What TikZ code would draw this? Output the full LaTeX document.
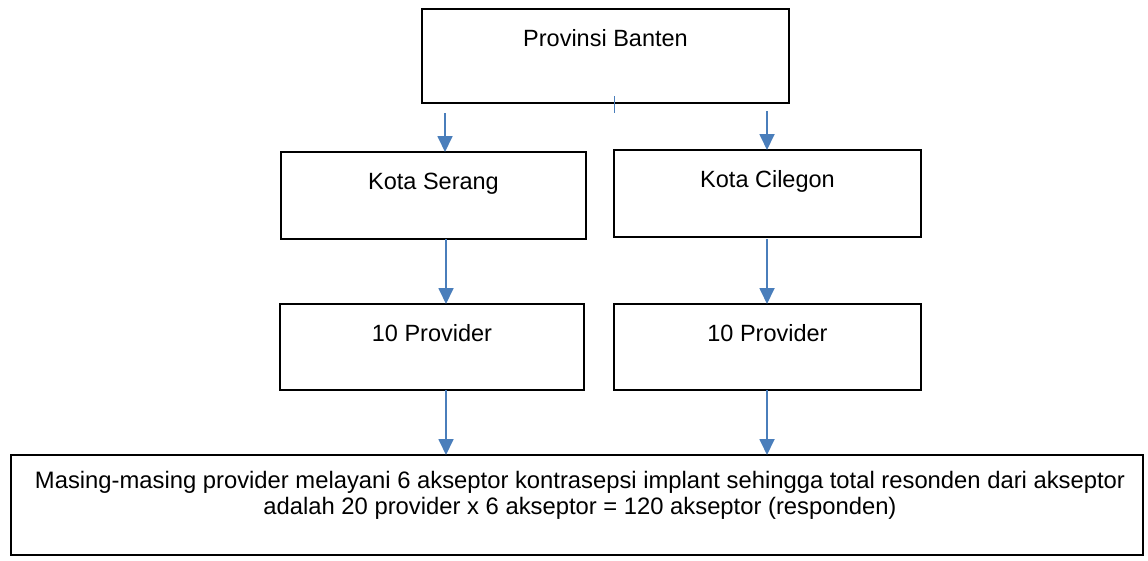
\documentclass[tikz,border=0pt]{standalone}
\usepackage{fontspec}
\setmainfont{Liberation Sans}
\usetikzlibrary{arrows.meta,calc}
\definecolor{arrowblue}{RGB}{74,126,187}
\begin{document}
\begin{tikzpicture}[x=1pt,y=-1pt,
  box/.style={draw=black,line width=1.8pt,rectangle,inner sep=0pt,outer sep=0pt,anchor=north west},
  lbl/.style={font=\fontsize{23.5}{26}\selectfont,inner sep=0pt,anchor=base},
  arr/.style={draw=arrowblue,line width=1.8pt,-{Triangle[width=15pt,length=16pt]}},
  tickline/.style={draw=arrowblue,line width=1.6pt},
]
\useasboundingbox (0,0) rectangle (1148,560);
% boxes
\node[box,minimum width=367pt,minimum height=94pt] (prov) at (422,9) {};
\node[box,minimum width=305pt,minimum height=87pt] (serang) at (281,152) {};
\node[box,minimum width=307pt,minimum height=87pt] (cilegon) at (614,150) {};
\node[box,minimum width=304pt,minimum height=86pt] (provL) at (280,304) {};
\node[box,minimum width=307pt,minimum height=86pt] (provR) at (614,304) {};
\node[box,minimum width=1132pt,minimum height=100pt] (total) at (11,455) {};
% texts
\node[lbl] (provT) at ($(prov.north)+(0,37)$) {Provinsi Banten};
\node[lbl] (serangT) at ($(serang.north)+(0,37)$) {Kota Serang};
\node[lbl] (cilegonT) at ($(cilegon.north)+(0,37)$) {Kota Cilegon};
\node[lbl] (provLT) at ($(provL.north)+(0,37)$) {10 Provider};
\node[lbl] (provRT) at ($(provR.north)+(0,37)$) {10 Provider};
\node[font=\fontsize{23.8}{26}\selectfont,inner sep=0pt,align=center] (totalT) at (580,495)
  {Masing-masing provider melayani 6 akseptor kontrasepsi implant sehingga total resonden dari akseptor\\
   adalah 20 provider x 6 akseptor = 120 akseptor (responden)};
% small tick
\draw[tickline] ([xshift=9pt,yshift=7pt]prov.south) -- ([xshift=9pt,yshift=-10pt]prov.south);
% arrows
\draw[arr] ([xshift=-160.5pt,yshift=-10pt]prov.south) -- ([xshift=11.5pt]serang.north);
\draw[arr] ([xshift=161.5pt,yshift=-8pt]prov.south) -- ([xshift=-0.5pt]cilegon.north);
\draw[arr] ([xshift=12.5pt]serang.south) -- ([xshift=12.5pt]serang.south |- provL.north);
\draw[arr] ([xshift=-0.5pt,yshift=-2pt]cilegon.south) -- ([xshift=-0.5pt]cilegon.south |- provR.north);
\draw[arr] ([xshift=14pt]provL.south) -- ([xshift=14pt]provL.south |- total.north);
\draw[arr] ([xshift=-0.5pt]provR.south) -- ([xshift=-0.5pt]provR.south |- total.north);
\end{tikzpicture}
\end{document}
